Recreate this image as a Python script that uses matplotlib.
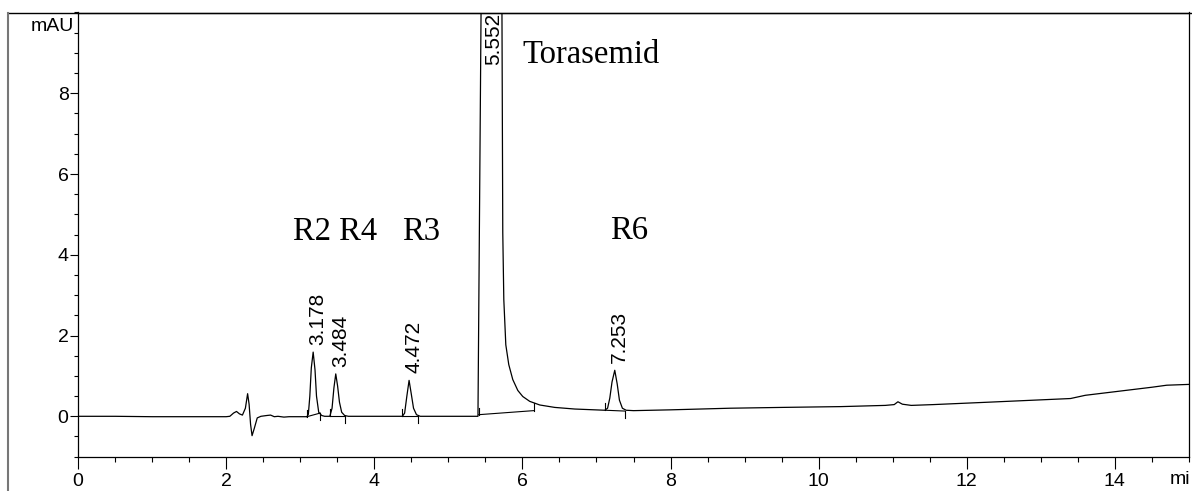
import matplotlib.pyplot as plt
from matplotlib.lines import Line2D
from matplotlib.transforms import Bbox, TransformedBbox
from matplotlib.ticker import MultipleLocator

plt.rcParams['font.family'] = ['Liberation Sans', 'DejaVu Sans']

# chromatogram trace (time in min, signal in mAU)
t = [0.0, 0.5, 1.0, 1.5, 2.0, 2.05, 2.10, 2.14, 2.18, 2.22, 2.26, 2.29, 2.31, 2.33,
     2.35, 2.38, 2.42, 2.47, 2.55, 2.60, 2.65, 2.70, 2.78, 2.85, 3.0, 3.09,
     3.11, 3.13, 3.15, 3.175, 3.20, 3.22, 3.25, 3.29, 3.33,
     3.40, 3.43, 3.455, 3.48, 3.505, 3.53, 3.56, 3.60, 3.65,
     4.0, 4.38, 4.41, 4.44, 4.47, 4.50, 4.53, 4.57, 4.62,
     5.0, 5.40, 5.45, 5.552, 5.72, 5.735, 5.749, 5.776, 5.816, 5.870, 5.938,
     6.005, 6.099, 6.235, 6.437, 6.707, 7.112,
     7.15, 7.18, 7.21, 7.247, 7.28, 7.31, 7.35, 7.40, 7.5,
     8.0, 8.8, 9.5, 10.3, 10.9, 11.02, 11.07, 11.13, 11.25, 11.55, 12.3, 13.4,
     13.6, 14.5, 14.7, 15.0]
mau = [0.0, 0.0, -0.01, -0.01, -0.01, 0.0, 0.08, 0.12, 0.06, 0.03, 0.2, 0.56, 0.3, -0.2,
       -0.48, -0.3, -0.04, 0.0, 0.02, 0.03, -0.01, 0.0, -0.02, -0.01, -0.01, -0.01,
       0.05, 0.5, 1.2, 1.59, 1.15, 0.5, 0.1, 0.02, 0.0,
       0.0, 0.2, 0.7, 1.05, 0.75, 0.35, 0.1, 0.02, 0.0,
       0.0, 0.0, 0.08, 0.5, 0.89, 0.55, 0.2, 0.04, 0.0,
       0.0, 0.0, 12.0, 40.0, 12.0, 4.55, 2.89, 1.77, 1.28, 0.91, 0.64,
       0.49, 0.37, 0.28, 0.22, 0.18, 0.15,
       0.2, 0.45, 0.85, 1.14, 0.8, 0.4, 0.2, 0.15, 0.14,
       0.16, 0.2, 0.22, 0.24, 0.27, 0.29, 0.36, 0.3, 0.27, 0.29, 0.35, 0.44,
       0.52, 0.72, 0.77, 0.79]

# peak labels: retention time and apex height
rt = [3.178, 3.484, 4.472, 5.552, 7.253]
apex = [1.59, 1.05, 0.89, 40.0, 1.14]

# integration baselines (start/end of each peak)
bl_x0 = [3.09, 3.40, 4.38, 5.41, 7.12]
bl_y0 = [-0.01, 0.0, 0.0, 0.04, 0.15]
bl_x1 = [3.27, 3.60, 4.59, 6.15, 7.38]
bl_y1 = [0.08, 0.0, 0.0, 0.14, 0.13]
end_up = [False, False, False, True, False]

names = ['R2 R4', 'R3', 'Torasemid', 'R6']
name_x = [2.90, 4.37, 6.0, 7.18]
name_y = [4.37, 4.37, 8.75, 4.4]

fig = plt.figure(figsize=(11.92, 4.91), dpi=100)
top = 1 - 12.5 / 491
ax = fig.add_axes([78 / 1192, 0.0699, 1111 / 1192, top - 0.0699])

ax.plot(t, mau, color='k', lw=0.9)
for i in range(len(rt)):
    ax.plot([bl_x0[i], bl_x1[i]], [bl_y0[i], bl_y1[i]], color='k', lw=0.8)
    ax.plot([bl_x0[i], bl_x0[i]], [bl_y0[i], bl_y0[i] + 0.17], color='k', lw=0.8)
    if end_up[i]:
        ax.plot([bl_x1[i], bl_x1[i]], [bl_y1[i], bl_y1[i] + 0.2], color='k', lw=0.8)
    else:
        ax.plot([bl_x1[i], bl_x1[i]], [bl_y1[i], bl_y1[i] - 0.17], color='k', lw=0.8)

for x, h in zip(rt, apex):
    if h > 10:
        ax.annotate(f'{x:.3f}', (x, 10), xytext=(3.3, 0), textcoords='offset points',
                    rotation=90, ha='center', va='top', fontsize=15)
    else:
        ax.annotate(f'{x:.3f}', (x, h), xytext=(3.3, 5), textcoords='offset points',
                    rotation=90, ha='center', va='bottom', fontsize=15)

for n, x, y in zip(names, name_x, name_y):
    ax.text(x, y, n, fontsize=23.5, family='Liberation Serif', ha='left', va='baseline')

ax.set_xlim(0, 15)
ax.set_ylim(-1, 10)
ax.xaxis.set_major_locator(MultipleLocator(2))
ax.xaxis.set_minor_locator(MultipleLocator(0.5))
ax.yaxis.set_major_locator(MultipleLocator(2))
ax.yaxis.set_minor_locator(MultipleLocator(0.5))
ax.set_yticks([0, 2, 4, 6, 8])
ax.tick_params(axis='x', which='major', length=8.5, width=0.8, labelsize=14, pad=3)
ax.tick_params(axis='x', which='minor', length=3.6, width=0.8)
ax.tick_params(axis='y', which='major', length=5.8, width=0.8, labelsize=14, pad=1)
ax.tick_params(axis='y', which='minor', length=3, width=0.8)
for s in ax.spines.values():
    s.set_linewidth(0.9)

ax.text(-0.004, 9.66, 'mAU', transform=ax.get_yaxis_transform(), fontsize=14,
        ha='right', va='center')
mn = fig.text(1170 / 1192, 0.006, 'min', fontsize=14, ha='left', va='bottom')
mn.set_clip_box(TransformedBbox(Bbox([[0, 0], [1189 / 1192, 1]]), fig.transFigure))
mn.set_clip_on(True)

# outer frame of the printout
fig.add_artist(Line2D([8 / 1192, 1], [top, top], color='k', lw=1))
fig.add_artist(Line2D([8 / 1192, 8 / 1192], [0, top], color='#777777', lw=1.5))

fig.savefig('out.png', dpi=100)
